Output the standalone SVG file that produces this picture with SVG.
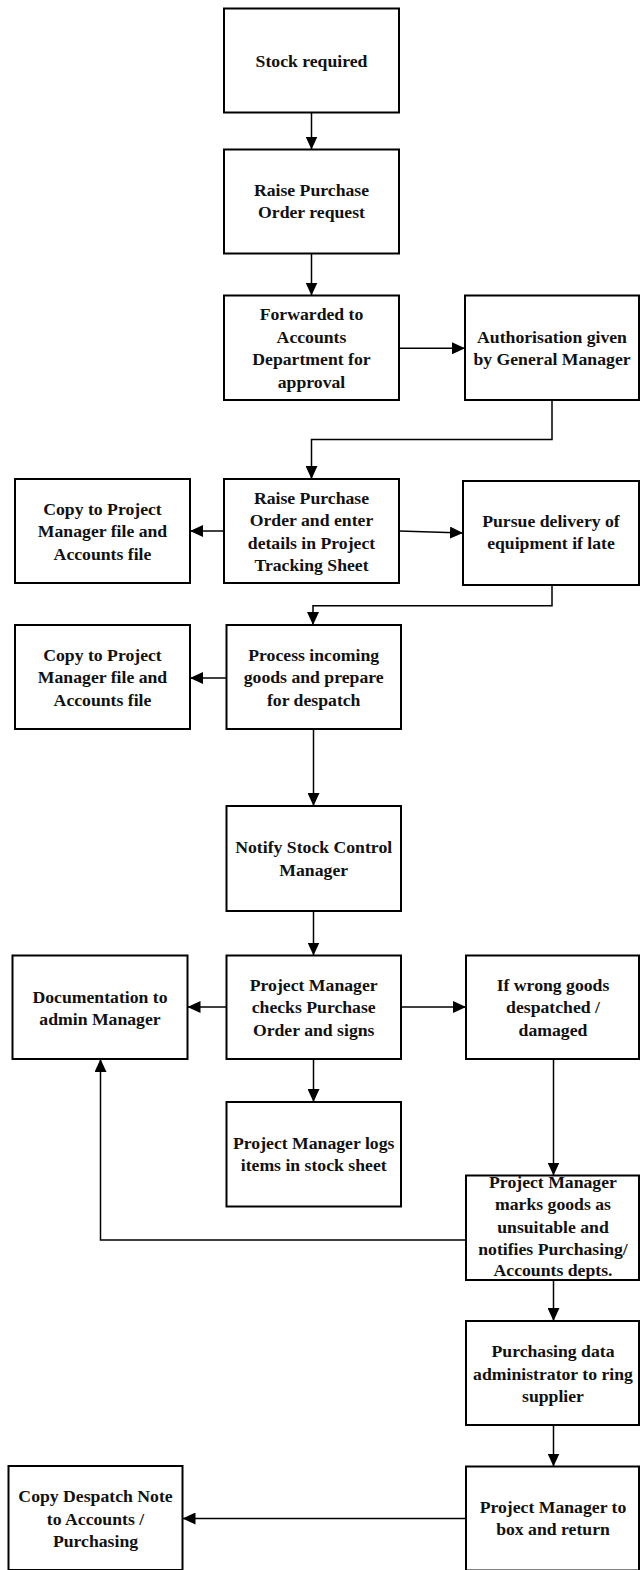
<svg xmlns="http://www.w3.org/2000/svg" width="640" height="1570" viewBox="0 0 640 1570">
<style>
.box{fill:#fff;stroke:#000;stroke-width:2}
.lbl{font-family:"Liberation Serif","Times New Roman",serif;font-weight:bold;font-size:17.7px;fill:#111;text-anchor:middle}
.con{fill:none;stroke:#000;stroke-width:1.5;marker-end:url(#ah)}
.plain{fill:none;stroke:#000;stroke-width:1.5}
</style>
<defs>
<marker id="ah" markerUnits="userSpaceOnUse" markerWidth="14" markerHeight="12" refX="13" refY="6" orient="auto">
<path d="M0,0 L13,6 L0,12 z" fill="#000"/>
</marker>
</defs>
<rect width="640" height="1570" fill="#fff"/>
<g id="connectors">
<path class="con" d="M311.5,112.5 V149.5"/>
<path class="con" d="M311.5,253.5 V295.5"/>
<path class="con" d="M399,348.3 H465"/>
<path class="con" d="M552,400 V439.5 H311.5 V479"/>
<path class="con" d="M224,531 H190"/>
<path class="con" d="M399,531 L463,533"/>
<path class="con" d="M552,585 V605.7 H313 V625"/>
<path class="con" d="M226.5,678 H190"/>
<path class="con" d="M313.5,729 V806"/>
<path class="con" d="M313.5,911 V955.5"/>
<path class="con" d="M226.5,1007 H187.5"/>
<path class="con" d="M401,1007 H466"/>
<path class="con" d="M313.5,1059 V1102"/>
<path class="con" d="M553.5,1059 V1175.5"/>
<path class="con" d="M466,1240 H100.5 V1059"/>
<path class="con" d="M553.5,1280 V1321"/>
<path class="con" d="M553.5,1425 V1466.5"/>
<path class="con" d="M466,1518.5 H182.5"/>
</g>
<g id="n1"><rect class="box" x="224" y="8.5" width="175" height="104"/>
<text class="lbl" x="311.5" y="66.5">Stock required</text></g>
<g id="n2"><rect class="box" x="224" y="149.5" width="175" height="104"/>
<text class="lbl" x="311.5" y="195.5">Raise Purchase</text><text class="lbl" x="311.5" y="218">Order request</text></g>
<g id="n3"><rect class="box" x="224" y="295.5" width="175" height="104.5"/>
<text class="lbl" x="311.5" y="320">Forwarded to</text><text class="lbl" x="311.5" y="342.5">Accounts</text><text class="lbl" x="311.5" y="365">Department for</text><text class="lbl" x="311.5" y="387.5">approval</text></g>
<g id="n4"><rect class="box" x="465" y="295.5" width="174" height="104.5"/>
<text class="lbl" x="552" y="343">Authorisation given</text><text class="lbl" x="552" y="365.3">by General Manager</text></g>
<g id="n5"><rect class="box" x="224" y="479" width="175" height="104"/>
<text class="lbl" x="311.5" y="503.5">Raise Purchase</text><text class="lbl" x="311.5" y="526">Order and enter</text><text class="lbl" x="311.5" y="548.5">details in Project</text><text class="lbl" x="311.5" y="571">Tracking Sheet</text></g>
<g id="n6"><rect class="box" x="15" y="479" width="175" height="104"/>
<text class="lbl" x="102.5" y="514.5">Copy to Project</text><text class="lbl" x="102.5" y="537">Manager file and</text><text class="lbl" x="102.5" y="559.5">Accounts file</text></g>
<g id="n7"><rect class="box" x="463" y="481" width="176" height="104"/>
<text class="lbl" x="551" y="527">Pursue delivery of</text><text class="lbl" x="551" y="549.3">equipment if late</text></g>
<g id="n8"><rect class="box" x="15" y="625" width="175" height="104"/>
<text class="lbl" x="102.5" y="660.5">Copy to Project</text><text class="lbl" x="102.5" y="683">Manager file and</text><text class="lbl" x="102.5" y="705.5">Accounts file</text></g>
<g id="n9"><rect class="box" x="226.5" y="625" width="174.5" height="104"/>
<text class="lbl" x="313.7" y="660.5">Process incoming</text><text class="lbl" x="313.7" y="683">goods and prepare</text><text class="lbl" x="313.7" y="705.5">for despatch</text></g>
<g id="n10"><rect class="box" x="226.5" y="806" width="174.5" height="105"/>
<text class="lbl" x="313.7" y="853">Notify Stock Control</text><text class="lbl" x="313.7" y="875.5">Manager</text></g>
<g id="n11"><rect class="box" x="226.5" y="955.5" width="174.5" height="103.5"/>
<text class="lbl" x="313.7" y="990.7">Project Manager</text><text class="lbl" x="313.7" y="1013.2">checks Purchase</text><text class="lbl" x="313.7" y="1035.7">Order and signs</text></g>
<g id="n12"><rect class="box" x="12.5" y="955.5" width="175" height="103.5"/>
<text class="lbl" x="100" y="1003">Documentation to</text><text class="lbl" x="100" y="1025.3">admin Manager</text></g>
<g id="n13"><rect class="box" x="466" y="955.5" width="173" height="103.5"/>
<text class="lbl" x="553" y="990.7">If wrong goods</text><text class="lbl" x="553" y="1013.2">despatched /</text><text class="lbl" x="553" y="1035.7">damaged</text></g>
<g id="n14"><rect class="box" x="226.5" y="1102" width="174.5" height="104.5"/>
<text class="lbl" x="313.7" y="1149.3">Project Manager logs</text><text class="lbl" x="313.7" y="1171">items in stock sheet</text></g>
<g id="n15"><rect class="box" x="466" y="1175.5" width="173" height="104.5"/>
<text class="lbl" x="553" y="1188.3">Project Manager</text><text class="lbl" x="553" y="1210.3">marks goods as</text><text class="lbl" x="553" y="1232.5">unsuitable and</text><text class="lbl" x="553" y="1254.5">notifies Purchasing/</text><text class="lbl" x="553" y="1276.3">Accounts depts.</text></g>
<g id="n16"><rect class="box" x="466" y="1321" width="173" height="104"/>
<text class="lbl" x="553" y="1357.3">Purchasing data</text><text class="lbl" x="553" y="1379.6">administrator to ring</text><text class="lbl" x="553" y="1401.8">supplier</text></g>
<g id="n17"><rect class="box" x="466" y="1466.5" width="173" height="104"/>
<text class="lbl" x="553" y="1513.3">Project Manager to</text><text class="lbl" x="553" y="1535.3">box and return</text></g>
<g id="n18"><rect class="box" x="8.5" y="1466" width="174" height="104"/>
<text class="lbl" x="95.5" y="1502.3">Copy Despatch Note</text><text class="lbl" x="95.5" y="1524.5">to Accounts /</text><text class="lbl" x="95.5" y="1546.7">Purchasing</text></g>
</svg>
